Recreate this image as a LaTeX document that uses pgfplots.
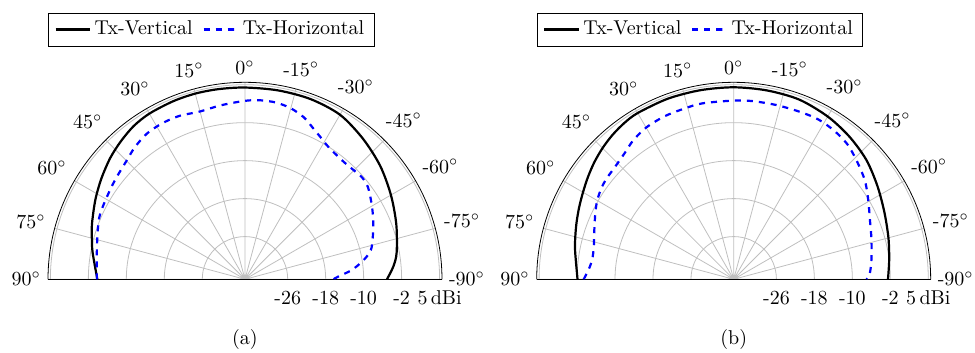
\documentclass[border=0pt]{standalone}
\usepackage{pgfplots}
\usepackage{pgfplotstable}
\pgfplotsset{compat=1.18}
\usepgfplotslibrary{polar}

% polar angle = 90 + pattern angle (pattern 0 deg at top, 90 deg at left); v in dBi
\pgfplotstableread{
p v
180 -3.9
170 -2.4
165 -1.6
160 -0.7
152 0.7
145 1.95
138 3.2
132 4.1
126 4.9
120 5.3
112 5.45
105 5.5
98 5.45
90 5.4
80 5.4
70 5.4
60 5.03
50 3.66
40 2.18
30 0.50
20 -1.08
10 -2.56
5 -3.61
0 -5.09
}\aVert
\pgfplotstableread{
p v
180 -3.8
170 -3.3
161.5 -2.3
155.5 -1.5
146.5 -0.9
141 -0.4
136 0.15
130 1.2
124 2.0
118 2.2
112 2.1
105 1.6
98 2.0
90 2.6
85 2.85
80 2.8
75 2.3
70 1.3
66 0.0
62 -1.1
58 -2.0
51 -2.65
46 -2.6
41 -2.3
37 -2.6
31 -3.9
25 -5.2
18.5 -6.6
13 -7.8
9 -9.8
5 -12.4
1.6 -15.4
0 -16.4
}\aHor
\pgfplotstableread{
p v
180 -2.1
170 -1.08
165 -0.45
160 0.22
155 0.92
150 1.66
145 2.5
140 3.34
135 4.08
130 4.71
125 5.19
120 5.45
110 5.5
100 5.45
90 5.45
80 5.4
70 5.3
60 4.6
51 3.7
42 2.6
33 1.1
24 -0.25
15 -1.25
7 -2.0
0 -2.5
}\bVert
\pgfplotstableread{
p v
180 -3.4
176 -4.4
172 -4.9
167 -4.75
160.5 -3.85
154.5 -2.7
150 -1.8
145 -1.1
141 -0.8
137 -0.6
131 0.1
126 1.1
120 1.9
113 2.3
106 2.45
100 2.65
90 2.65
84 2.75
76 2.8
68 2.95
62 3.1
56 2.8
50 2.2
44 1.0
37 -0.4
30.5 -2.1
23.5 -3.7
16 -4.8
8 -5.7
2.5 -6.3
0 -7.0
}\bHor

% radius = dBi + 35 (centre of the plot is -35 dBi)
\pgfplotsset{
  mypolar/.style={
    scale only axis, width=197pt,
    xmin=0, xmax=180, ymin=0, ymax=41.5,
    xtick={0,15,...,180},
    xticklabels={-90$^\circ$,-75$^\circ$,-60$^\circ$,-45$^\circ$,-30$^\circ$,-15$^\circ$,0$^\circ$,15$^\circ$,30$^\circ$,45$^\circ$,60$^\circ$,75$^\circ$,90$^\circ$},
    ytick={9,17,25,33,41},
    yticklabels={-26,-18,-10,-2,5\,dBi},
    yticklabel style={anchor=base, yshift=-12.85pt},
    grid=major,
    major grid style={black!25, line width=0.4pt},
    major tick length=0pt,
    legend columns=2,
    legend style={at={(0,1)}, anchor=south west, yshift=18pt, draw=black, fill=white,
      /tikz/every even column/.append style={column sep=3pt}},
    legend cell align=left,
  },
  vert/.style={black, line width=1.1pt, smooth, no marks},
  hor/.style={blue, line width=1.1pt, dashed, smooth, no marks},
}

\begin{document}
\begin{tikzpicture}
\begin{polaraxis}[mypolar, name=pa, at={(0pt,0pt)}, anchor=south]
  \addplot[vert] table[x=p, y expr=\thisrow{v}+35] {\aVert};
  \addplot[hor] table[x=p, y expr=\thisrow{v}+35] {\aHor};
  \legend{Tx-Vertical, Tx-Horizontal}
\end{polaraxis}
\begin{polaraxis}[mypolar, name=pb, at={(244.35pt,0pt)}, anchor=south]
  \addplot[vert] table[x=p, y expr=\thisrow{v}+35] {\bVert};
  \addplot[hor] table[x=p, y expr=\thisrow{v}+35] {\bHor};
  \legend{Tx-Vertical, Tx-Horizontal}
\end{polaraxis}
\node at (0pt,-30.35pt) {(a)};
\node at (244.35pt,-30.35pt) {(b)};
\pgfresetboundingbox
\path[use as bounding box] (-122.5pt,-36.85pt) rectangle (365pt,139.65pt);
\end{tikzpicture}
\end{document}
